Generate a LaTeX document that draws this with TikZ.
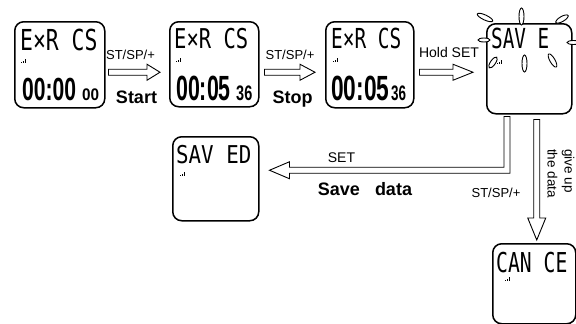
\documentclass[tikz,border=0pt]{standalone}
\usepackage{fontspec}
\setmainfont{Liberation Sans}
\newfontfamily\lcdfont{DejaVu Sans Mono}
\usetikzlibrary{calc}
\newcommand\arrowright[3]{%
  \draw[blk] let \p1=(#1), \p2=(#2) in
    (\x1,\y2+3pt) -- (\x2-#3,\y2+3pt) -- (\x2-#3,\y2+8pt) -- (\x2,\y2)
    -- (\x2-#3,\y2-8pt) -- (\x2-#3,\y2-3pt) -- (\x1,\y2-3pt) -- cycle;}
\newcommand\sigicon[2]{%
  \fill (#1,#2) rectangle ++(1,-1.2);
  \fill (#1+1.8,#2) rectangle ++(1,-2.4);
  \fill (#1+3.6,#2) rectangle ++(1,-3.6);}
\begin{document}
\begin{tikzpicture}[x=1pt,y=-1pt,
  lcdbox/.style={draw, line width=1.5pt, rounded corners=9pt, anchor=north west, inner sep=0pt},
  lcd/.style={inner sep=0pt, anchor=base west, font=\lcdfont},
  dig/.style={inner sep=0pt, anchor=base west, font=\bfseries},
  lbl/.style={inner sep=0pt, anchor=base, font=\fontsize{13pt}{15pt}\selectfont},
  bld/.style={inner sep=0pt, anchor=base, font=\bfseries\fontsize{18pt}{20pt}\selectfont},
  blk/.style={draw, line width=0.9pt, fill=white, line join=miter},
  petal/.style={draw, line width=0.9pt, fill=white}]
\fill[white] (0,0) rectangle (576,324);
\useasboundingbox (0,0) rectangle (576,324);
% boxes
\node[lcdbox, minimum width=90pt, minimum height=86pt] (b1) at (14,21) {};
\node[lcdbox, minimum width=89pt, minimum height=85pt] (b2) at (169,21) {};
\node[lcdbox, minimum width=88pt, minimum height=86pt] (b3) at (325,21) {};
\node[lcdbox, minimum width=85pt, minimum height=90pt] (b4) at (486,23) {};
\node[lcdbox, minimum width=86pt, minimum height=84pt] (b5) at (172,136) {};
\node[lcdbox, minimum width=83pt, minimum height=80pt] (b6) at (492,243) {};
% display texts
\node[lcd] (t1) at (20,50) {\scalebox{1}[1.35]{\fontsize{21.4pt}{24pt}\selectfont E×R CS}};
\node[lcd] (t2) at (174,48) {\scalebox{1}[1.33]{\fontsize{20.5pt}{24pt}\selectfont E×R CS}};
\node[lcd] (t3) at (331,48) {\scalebox{1}[1.42]{\fontsize{19.4pt}{24pt}\selectfont E×R CS}};
\node[lcd] (t4) at (491,48) {\scalebox{1}[1.43]{\fontsize{19.3pt}{24pt}\selectfont SAV E}};
\node[lcd] (t5) at (176,163) {\scalebox{1}[1.18]{\fontsize{20.8pt}{24pt}\selectfont SAV ED}};
\node[lcd] (t6) at (496,272) {\scalebox{1}[1.39]{\fontsize{19.7pt}{24pt}\selectfont CAN CE}};
\node[dig] (d1) at (22,100) {\scalebox{0.66}[1]{\fontsize{32pt}{32pt}\selectfont 00:00}};
\node[dig] (s1) at (82,100) {\scalebox{0.91}[1]{\fontsize{16.8pt}{17pt}\selectfont 00}};
\node[dig] (d2) at (176,100) {\scalebox{0.61}[1]{\fontsize{35pt}{35pt}\selectfont 00:05}};
\node[dig] (s2) at (236,100) {\scalebox{0.69}[1]{\fontsize{21pt}{21pt}\selectfont 36}};
\node[dig] (d3) at (331,100) {\scalebox{0.65}[1]{\fontsize{35pt}{35pt}\selectfont 00:05}};
\node[dig] (s3) at (391,100) {\scalebox{0.64}[1]{\fontsize{21pt}{21pt}\selectfont 36}};
% signal icons
\sigicon{21}{63}
\sigicon{176}{62}
\sigicon{333}{62}
\sigicon{497}{64}
\sigicon{180}{176}
\sigicon{505}{281}
% flashing marks
\draw[petal, rotate around={-25:(485,17.5)}] (485,17.5) ellipse [x radius=8.5pt, y radius=2.5pt];
\draw[petal, rotate around={90:(521.5,16.5)}] (521.5,16.5) ellipse [x radius=8.5pt, y radius=2.5pt];
\draw[petal, rotate around={30:(562,19)}] (562,19) ellipse [x radius=7pt, y radius=2.5pt];
\draw[petal] (484,40) ellipse [x radius=6pt, y radius=2pt];
\draw[petal] (573.5,42.5) ellipse [x radius=6.5pt, y radius=2pt];
\draw[petal, rotate around={55:(493,62.5)}] (493,62.5) ellipse [x radius=6.5pt, y radius=2.5pt];
\draw[petal, rotate around={90:(524.5,63.5)}] (524.5,63.5) ellipse [x radius=8.5pt, y radius=2.5pt];
\draw[petal, rotate around={-60:(552.5,60.5)}] (552.5,60.5) ellipse [x radius=7.5pt, y radius=2.5pt];
% arrows
\arrowright{$(b1.east)+(3,7.5)$}{$(b2.west)+(-9,8)$}{13pt}
\arrowright{$(b2.east)+(5,8)$}{$(b3.west)+(-10,7.5)$}{15pt}
\arrowright{$(b3.east)+(5,7.5)$}{$(b4.west)+(-13,3.5)$}{20pt}
\draw[blk] let \p1=($(b4.south west)+(21,2)$), \p2=($(b5.east)+(10,-8.5)$) in
  (\x1-3pt,\y1) -- (\x1+3pt,\y1) -- (\x1+3pt,\y2-3pt) -- (\x2+20pt,\y2-3pt)
  -- (\x2+20pt,\y2-8.5pt) -- (\x2,\y2) -- (\x2+20pt,\y2+8.5pt) -- (\x2+20pt,\y2+3pt)
  -- (\x1-3pt,\y2+3pt) -- cycle;
\draw[blk] let \p1=($(b4.south)+(7.5,5)$), \p2=($(b6.north)+(2.5,-3)$) in
  (\x1-3pt,\y1) -- (\x1+3pt,\y1) -- (\x1+3pt,\y2+22pt) -- (\x1+9pt,\y2+22pt)
  -- (\x1,\y2) -- (\x1-9pt,\y2+22pt) -- (\x1-3pt,\y2+22pt) -- cycle;
% labels
\node[lbl] (l1) at (130.5,59.5) {ST/SP/+};
\node[bld] (l2) at (136.5,103) {Start};
\node[lbl] (l3) at (290,59.5) {ST/SP/+};
\node[bld] (l4) at (292.5,103) {Stop};
\node[lbl, font=\fontsize{14pt}{16pt}\selectfont] (l5) at (449,57) {Hold SET};
\node[lbl, font=\fontsize{14pt}{16pt}\selectfont] (l6) at (341.5,162) {SET};
\node[bld] (l7) at (365,195) {Save\hspace{10pt} data};
\node[lbl] (l8) at (496,197) {ST/SP/+};
\node[inner sep=0pt, rotate=-90, anchor=west, align=left, font=\fontsize{13.5pt}{17pt}\selectfont] (l9) at (561,149) {give up\\the data};
\end{tikzpicture}
\end{document}
